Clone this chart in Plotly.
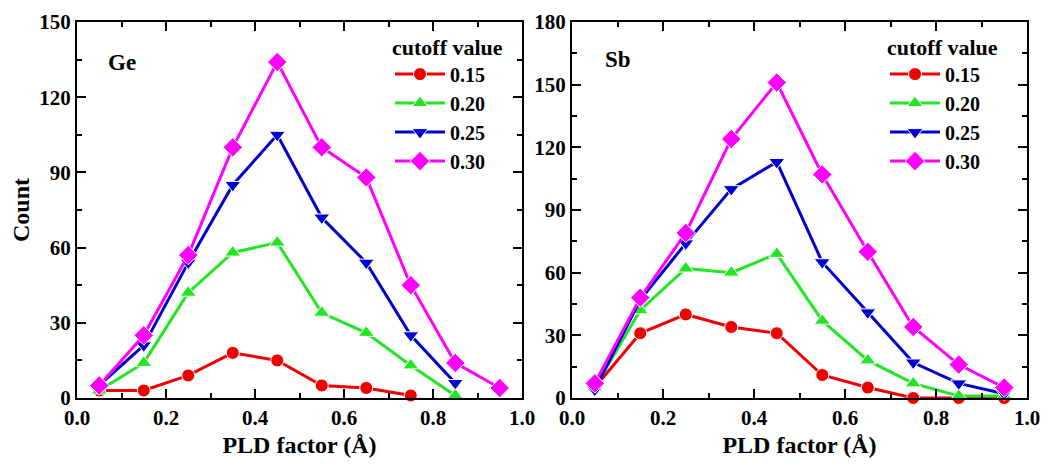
import plotly.graph_objects as go

pld = [0.05, 0.15, 0.25, 0.35, 0.45, 0.55, 0.65, 0.75, 0.85, 0.95]
cutoffs = ["0.15", "0.20", "0.25", "0.30"]

ge_015 = [3, 3, 9, 18, 15, 5, 4, 1]
ge_020 = [3, 14, 42, 58, 62, 34, 26, 13, 1]
ge_025 = [5, 21, 54, 85, 105, 72, 54, 25, 6]
ge_030 = [5, 25, 57, 100, 134, 100, 88, 45, 14, 4]

sb_015 = [5, 31, 40, 34, 31, 11, 5, 0, 0, 0]
sb_020 = [5, 42, 62, 60, 69, 37, 18, 7, 1, 1]
sb_025 = [4, 47, 74, 100, 113, 65, 41, 17, 7, 2]
sb_030 = [7, 48, 79, 124, 151, 107, 70, 34, 16, 5]

colors = ["#F00000", "#22E622", "#0000D0", "#FF00FF"]
symbols = ["circle", "triangle-up", "triangle-down", "diamond"]
msizes = [13, 14, 14, 15]

FONT = "Liberation Serif"

fig = go.Figure()

for panel, series, xa, ya, leg in [
    ("Ge", [ge_015, ge_020, ge_025, ge_030], "x", "y", "legend"),
    ("Sb", [sb_015, sb_020, sb_025, sb_030], "x2", "y2", "legend2"),
]:
    for i, vals in enumerate(series):
        fig.add_trace(go.Scatter(
            x=pld[:len(vals)], y=vals, mode="lines+markers",
            name=cutoffs[i], xaxis=xa, yaxis=ya, legend=leg,
            line=dict(color=colors[i], width=3),
            marker=dict(symbol=symbols[i], size=msizes[i], color=colors[i],
                        line=dict(color="white", width=1)),
            cliponaxis=False,
        ))

axis_common = dict(
    showline=True, linecolor="black", linewidth=2, mirror="allticks",
    ticks="inside", ticklen=9, tickwidth=2, tickcolor="black",
    showgrid=False, zeroline=False, automargin=False,
    tickfont=dict(family=FONT, size=21, color="black", weight="bold"),
)

legend_common = dict(
    xanchor="left", yanchor="top", bgcolor="rgba(0,0,0,0)",
    title=dict(text="<b>cutoff value</b>", font=dict(family=FONT, size=22)),
    font=dict(family=FONT, size=20, weight="bold"),
    tracegroupgap=0, itemwidth=50,
)

fig.update_layout(
    width=1052, height=469, autosize=False,
    margin=dict(l=0, r=0, t=0, b=0, autoexpand=False),
    paper_bgcolor="white", plot_bgcolor="white",
    font=dict(family=FONT, color="black"),
    xaxis=dict(domain=[77/1052, 522/1052], range=[0, 1.0], dtick=0.2, tickformat=".1f",
               minor=dict(dtick=0.1, ticks="inside", ticklen=5, tickwidth=2, tickcolor="black"),
               title=dict(text="<b>PLD factor (Å)</b>", font=dict(family=FONT, size=24), standoff=7),
               ticklabelstandoff=0, anchor="y", **axis_common),
    yaxis=dict(domain=[71/469, 447/469], range=[0, 150], dtick=30,
               minor=dict(dtick=15, ticks="inside", ticklen=5, tickwidth=2, tickcolor="black"),
               anchor="x", **axis_common),
    xaxis2=dict(domain=[572/1052, 1027/1052], range=[0, 1.0], dtick=0.2, tickformat=".1f",
                minor=dict(dtick=0.1, ticks="inside", ticklen=5, tickwidth=2, tickcolor="black"),
                title=dict(text="<b>PLD factor (Å)</b>", font=dict(family=FONT, size=24), standoff=7),
                ticklabelstandoff=0, anchor="y2", **axis_common),
    yaxis2=dict(domain=[71/469, 447/469], range=[0, 180], dtick=30,
                minor=dict(dtick=15, ticks="inside", ticklen=5, tickwidth=2, tickcolor="black"),
                anchor="x2", **axis_common),
    legend=dict(x=390/1052, y=1 - 26/469, **legend_common),
    legend2=dict(x=885/1052, y=1 - 26/469, **legend_common),
    showlegend=True,
    annotations=[
        dict(text="<b>Count</b>", x=21/1052, y=(469 - 210)/469, xref="paper", yref="paper",
             showarrow=False, textangle=-90, xanchor="center", yanchor="middle",
             font=dict(family=FONT, size=24, color="black")),
        dict(text="<b>Ge</b>", x=0.1, y=134, xref="x", yref="y", showarrow=False,
             font=dict(family=FONT, size=23, color="black"), xanchor="center", yanchor="middle"),
        dict(text="<b>Sb</b>", x=0.1, y=162, xref="x2", yref="y2", showarrow=False,
             font=dict(family=FONT, size=23, color="black"), xanchor="center", yanchor="middle"),
    ],
)

fig.write_html("out.html")
